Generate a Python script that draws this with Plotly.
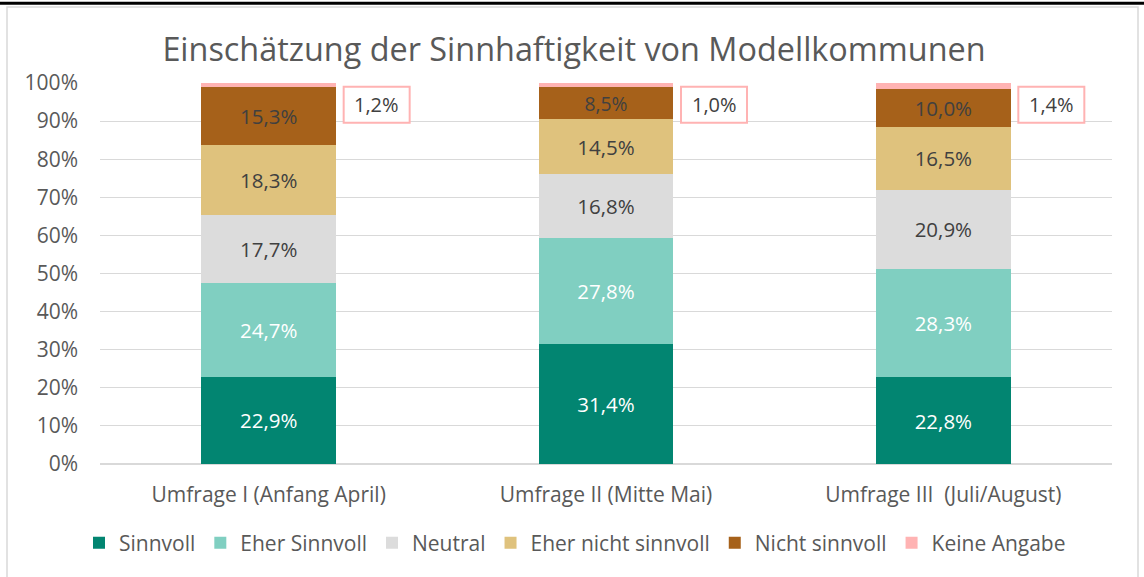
import plotly.graph_objects as go

categories = ["Umfrage I (Anfang April)", "Umfrage II (Mitte Mai)", "Umfrage III  (Juli/August)"]
series_names = ["Sinnvoll", "Eher Sinnvoll", "Neutral", "Eher nicht sinnvoll", "Nicht sinnvoll", "Keine Angabe"]
sinnvoll = [22.9, 31.4, 22.8]
eher_sinnvoll = [24.7, 27.8, 28.3]
neutral = [17.7, 16.8, 20.9]
eher_nicht = [18.3, 14.5, 16.5]
nicht = [15.3, 8.5, 10.0]
keine_angabe = [1.2, 1.0, 1.4]
y_ticks = list(range(0, 101, 10))
y_tick_labels = [f"{v}%" for v in y_ticks]

colors = ["#028571", "#80CFC1", "#DCDCDC", "#DFC27D", "#A6611A", "#FFB3B3"]
text_colors = ["#FFFFFF", "#FFFFFF", "#404040", "#404040", "#404040", "#404040"]
all_series = [sinnvoll, eher_sinnvoll, neutral, eher_nicht, nicht, keine_angabe]

FONT = "Open Sans"

def fmt(v):
    return f"{v:.1f}%".replace(".", ",")

fig = go.Figure()
for i, (name, vals) in enumerate(zip(series_names, all_series)):
    show_text = i < 5
    fig.add_trace(go.Bar(
        name=name, x=categories, y=vals,
        marker=dict(color=colors[i], line=dict(width=0)),
        text=[fmt(v) for v in vals] if show_text else None,
        textposition="inside" if show_text else "none",
        insidetextanchor="middle",
        textangle=0,
        textfont=dict(family=FONT, size=20.5, color=text_colors[i]),
        hoverinfo="skip",
    ))

# callout labels for "Keine Angabe"
for idx, (c, v) in enumerate(zip(categories, keine_angabe)):
    fig.add_shape(type="rect", xref="x", yref="y",
                  xsizemode="pixel", ysizemode="pixel",
                  xanchor=idx, yanchor=94.3,
                  x0=75, x1=141, y0=-18, y1=18,
                  line=dict(color="#FFB3B3", width=2), fillcolor="white")
    fig.add_annotation(
        x=c, y=94.3, xref="x", yref="y", xshift=108,
        text=fmt(v), showarrow=False,
        font=dict(family=FONT, size=20, color="#404040"),
    )

L, R, T, B = 100, 32, 83, 113
W, H = 1144, 577
pw, ph = W - L - R, H - T - B
px = lambda x: (x - L) / pw
py = lambda y: (H - B - y) / ph

# outer frame
fig.add_shape(type="rect", xref="paper", yref="paper",
              x0=px(7), x1=px(1138), y0=py(600), y1=py(7),
              line=dict(color="#D9D9D9", width=1.5), fillcolor="rgba(0,0,0,0)", layer="below")
fig.add_shape(type="line", xref="paper", yref="paper",
              x0=px(-2), x1=px(1146), y0=py(3.3), y1=py(3.3),
              line=dict(color="black", width=3))

fig.update_layout(
    width=W, height=H,
    barmode="stack", bargap=0.6,
    margin=dict(l=L, r=R, t=T, b=B),
    paper_bgcolor="white", plot_bgcolor="white",
    font=dict(family=FONT, color="#595959", size=21),
    title=dict(text="Einschätzung der Sinnhaftigkeit von Modellkommunen",
               x=574 / W, xanchor="center", xref="container",
               y=1 - 50 / H, yanchor="middle", yref="container",
               font=dict(family=FONT, size=32.4, color="#595959")),
    showlegend=True,
    legend=dict(orientation="h", x=px(575), xanchor="center",
                y=py(543), yanchor="middle",
                font=dict(family=FONT, size=21, color="#595959"),
                traceorder="normal", itemclick=False, itemwidth=30),
    yaxis=dict(range=[0, 100], tickmode="array", tickvals=y_ticks, ticktext=y_tick_labels,
               showgrid=True, gridcolor="#D9D9D9", gridwidth=1,
               zeroline=True, zerolinecolor="#D9D9D9", zerolinewidth=1.5,
               showline=False, ticks="", ticklabelstandoff=21,
               tickfont=dict(family=FONT, size=21, color="#595959")),
    xaxis=dict(showgrid=False, showline=False, ticks="", ticklabelstandoff=16,
               tickfont=dict(family=FONT, size=21, color="#595959")),
)

fig.write_html("out.html", config={"displayModeBar": False},
               post_script="document.body.style.margin='0px';document.body.style.overflow='hidden';")
